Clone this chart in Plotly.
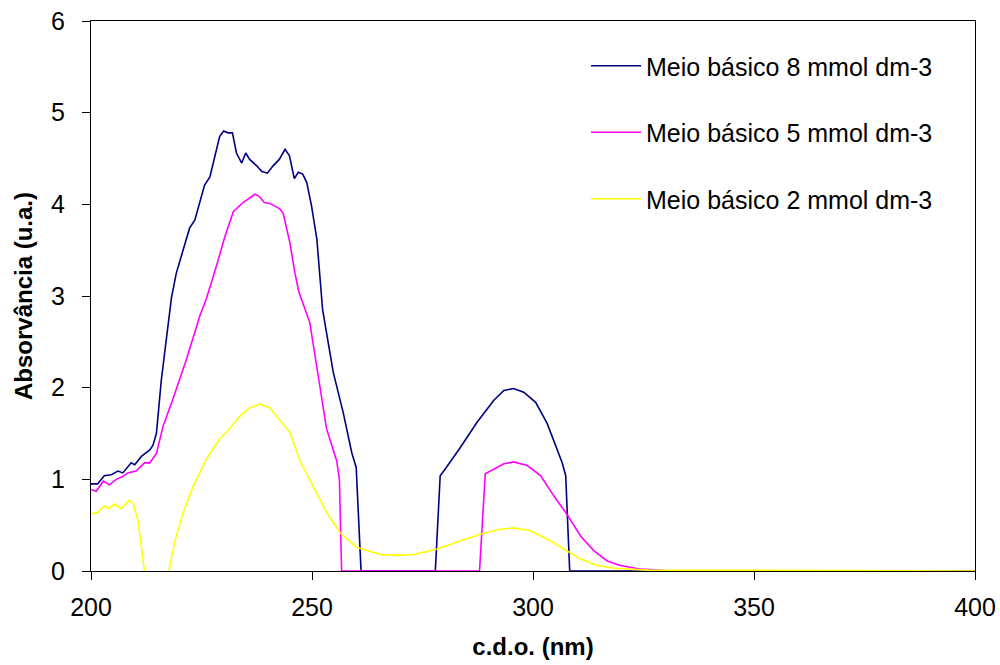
import plotly.graph_objects as go

# ---- data ----
x_8mM = [200, 201.5, 203, 204.6, 206.1, 207.2, 209.1, 209.9, 211.4, 213.3, 214, 214.8, 215.9, 217.1,
         218.2, 219.3, 220.8, 222.3, 223.5, 224.6, 225.7, 226.9, 228, 229.1, 230, 231, 232, 232.9,
         234.1, 235, 235.9, 237.5, 238.6, 239.9, 241.2, 242.6, 243.9, 244.9, 246, 246.9, 247.9,
         248.8, 249.9, 251.1, 252.4, 254.8, 257.1, 259, 260, 260.5, 261.1, 277.9, 279, 280.1, 283.6,
         287.3, 291.1, 293.4, 295.6, 297.9, 300.6, 303.2, 305.5, 306.6, 307.4, 308.3, 400]
y_8mM = [0.95, 0.95, 1.04, 1.05, 1.09, 1.07, 1.18, 1.16, 1.25, 1.32, 1.37, 1.50, 2.08, 2.56,
         2.98, 3.25, 3.50, 3.74, 3.83, 4.01, 4.21, 4.30, 4.53, 4.74, 4.80, 4.78, 4.78, 4.56,
         4.45, 4.56, 4.49, 4.42, 4.36, 4.34, 4.42, 4.49, 4.60, 4.53, 4.28, 4.35, 4.33,
         4.24, 3.98, 3.62, 2.85, 2.17, 1.72, 1.29, 1.13, 0.64, 0, 0, 1.04, 1.11, 1.35,
         1.62, 1.86, 1.97, 1.99, 1.95, 1.84, 1.61, 1.33, 1.18, 1.04, 0, 0]

x_5mM = [200, 201.2, 202.8, 204.2, 205.7, 207.2, 208.3, 210.2, 212.1, 213.3, 214.8, 216.3, 218.5,
         221.6, 224.6, 226.1, 228.4, 230.3, 232.2, 234.4, 237.1, 238, 239.2, 240.5, 242.7, 243.5,
         245, 246.1, 247, 249.5, 251.4, 253.3, 255.6, 256.2, 256.7, 287.9, 289.2, 291.1, 293.4,
         295.6, 298.7, 301.7, 304.7, 307.8, 310.8, 313.8, 316.8, 319.8, 324.4, 330, 400]
y_5mM = [0.89, 0.87, 0.98, 0.94, 1.00, 1.03, 1.07, 1.09, 1.18, 1.18, 1.28, 1.58, 1.87,
         2.31, 2.78, 2.97, 3.33, 3.65, 3.92, 4.02, 4.11, 4.09, 4.02, 4.01, 3.95, 3.90,
         3.58, 3.26, 3.05, 2.71, 2.13, 1.55, 1.20, 1.00, 0, 0, 1.06, 1.11, 1.17,
         1.19, 1.15, 1.04, 0.82, 0.61, 0.38, 0.22, 0.11, 0.06, 0.02, 0.005, 0]

x_2mM = [200, 201.5, 203.1, 204, 205.3, 206.8, 208.6, 209.5, 210.6, 211.4, 212.1, None, 217.6,
         218.9, 220.8, 223.1, 226.1, 229.1, 231, 233.7, 235.9, 238.2, 240.5, 242.7, 245, 247.3,
         249.5, 253.3, 256.3, 260.1, 265.4, 269.2, 273, 278.3, 283.6, 288.1, 291.9, 295.6, 299.4,
         303.2, 307, 310.8, 314.6, 318.3, 325.9, 400]
y_2mM = [0.62, 0.64, 0.71, 0.68, 0.73, 0.68, 0.77, 0.74, 0.56, 0.27, 0, None, 0,
         0.31, 0.63, 0.92, 1.22, 1.44, 1.53, 1.69, 1.78, 1.82, 1.78, 1.65, 1.51, 1.20,
         1.00, 0.64, 0.42, 0.26, 0.18, 0.17, 0.18, 0.24, 0.33, 0.40, 0.45, 0.47, 0.44,
         0.35, 0.24, 0.13, 0.06, 0.03, 0.01, 0]

series_names = ["Meio básico 8 mmol dm-3", "Meio básico 5 mmol dm-3", "Meio básico 2 mmol dm-3"]
series_colors = ["#000080", "#FF00FF", "#FFFF00"]
x_ticks = [200, 250, 300, 350, 400]
y_ticks = [0, 1, 2, 3, 4, 5, 6]

FONT = "Liberation Sans, Arial, sans-serif"

fig = go.Figure()
for i, (xs, ys) in enumerate([(x_8mM, y_8mM), (x_5mM, y_5mM), (x_2mM, y_2mM)]):
    fig.add_trace(go.Scatter(
        x=xs, y=ys, mode="lines", name=series_names[i],
        line=dict(color=series_colors[i], width=1.6),
        connectgaps=False, legendgroup=f"g{i}",
    ))

axis_common = dict(
    showline=True, linecolor="black", linewidth=1, mirror=True,
    ticks="outside", ticklen=8, tickwidth=1, tickcolor="black",
    showgrid=False, zeroline=False, layer="below traces", automargin=False,
    tickfont=dict(family=FONT, size=25, color="black"),
)

fig.update_layout(
    width=1000, height=665,
    margin=dict(l=91, r=25, t=21, b=94, pad=0),
    paper_bgcolor="white", plot_bgcolor="white",
    font=dict(family=FONT, color="black"),
    xaxis=dict(range=[200, 400], tickvals=x_ticks, ticklabelstandoff=6,
               title=dict(text="<b>c.d.o. (nm)</b>", font=dict(family=FONT, size=24), standoff=18),
               **axis_common),
    yaxis=dict(range=[0, 6], tickvals=y_ticks, ticklabelstandoff=12,
               title=dict(text="<b>Absorvância (u.a.)</b>", font=dict(family=FONT, size=24), standoff=11),
               **axis_common),
    legend=dict(x=0.56, y=0.96, xanchor="left", yanchor="top",
                font=dict(family=FONT, size=25, color="black"),
                bgcolor="rgba(0,0,0,0)", tracegroupgap=31, itemwidth=50),
    showlegend=True,
)

fig.write_html("out.html")
